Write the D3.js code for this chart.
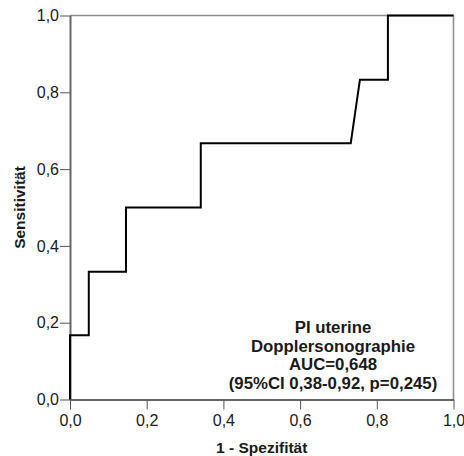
<!DOCTYPE html>
<html>
<head>
<meta charset="utf-8">
<script src="https://cdn.jsdelivr.net/npm/d3@7"></script>
<style>
  html, body { margin: 0; padding: 0; background: #fff; }
  svg { display: block; font-family: "Liberation Sans", Arial, sans-serif; }
</style>
</head>
<body>
<svg id="chart" width="464" height="456"></svg>
<script>
// ROC curve: 1 - specificity (x) against sensitivity (y)
const fpr = [0, 0, 0.049, 0.049, 0.146, 0.146, 0.341, 0.341, 0.732, 0.756, 0.829, 0.829, 1];
const tpr = [0, 0.167, 0.167, 0.333, 0.333, 0.5, 0.5, 0.667, 0.667, 0.833, 0.833, 1, 1];
const xTicks = [0, 0.2, 0.4, 0.6, 0.8, 1.0];
const yTicks = [0, 0.2, 0.4, 0.6, 0.8, 1.0];
const xTitle = "1 - Spezifität";
const yTitle = "Sensitivität";
const noteLines = ["PI uterine", "Dopplersonographie", "AUC=0,648", "(95%CI 0,38-0,92, p=0,245)"];

const svg = d3.select("#chart");
const m = { left: 70, top: 15.5, right: 453.5, bottom: 399.5 };
const x = d3.scaleLinear().domain([0, 1]).range([m.left, m.right]);
const y = d3.scaleLinear().domain([0, 1]).range([m.bottom, m.top]);
const fmt = d => d3.format(".1f")(d).replace(".", ",");
const font = "'Liberation Sans', Arial, sans-serif";

// frame (top and right sides)
svg.append("path")
  .attr("d", `M${m.left},${m.top}H${m.right}V${m.bottom}`)
  .attr("fill", "none").attr("stroke", "#8c8c8c").attr("stroke-width", 1.5);

// x axis
const gx = svg.append("g").attr("transform", `translate(0,${m.bottom})`)
  .call(d3.axisBottom(x).tickValues(xTicks).tickFormat(fmt).tickSizeInner(10).tickSizeOuter(0).tickPadding(5));
// y axis
const gy = svg.append("g").attr("transform", `translate(${m.left},0)`)
  .call(d3.axisLeft(y).tickValues(yTicks).tickFormat(fmt).tickSizeInner(10).tickSizeOuter(0).tickPadding(1));

[gx, gy].forEach(g => {
  g.select(".domain").attr("stroke", "#666").attr("stroke-width", 2);
  g.selectAll(".tick line").attr("stroke", "#555").attr("stroke-width", 1);
  g.selectAll(".tick text").attr("fill", "#1a1a1a").style("font-size", "16px")
    .style("font-family", font);
});

// ROC line
const pts = fpr.map((f, i) => [f, tpr[i]]);
svg.append("path")
  .datum(pts)
  .attr("d", d3.line().x(d => x(d[0])).y(d => y(d[1])))
  .attr("fill", "none").attr("stroke", "#000").attr("stroke-width", 2)
  .attr("stroke-linejoin", "miter");

// axis titles
svg.append("text")
  .attr("x", (m.left + m.right) / 2).attr("y", 453)
  .attr("text-anchor", "middle").attr("font-weight", "bold").attr("font-size", 15.5)
  .attr("fill", "#1a1a1a").text(xTitle);
svg.append("text")
  .attr("transform", `translate(25,${(m.top + m.bottom) / 2}) rotate(-90)`)
  .attr("text-anchor", "middle").attr("font-weight", "bold").attr("font-size", 15.5)
  .attr("fill", "#1a1a1a").text(yTitle);

// annotation block, lower right of the plot
const noteSize = 16.8, noteLead = 18.8;
svg.append("g").selectAll("text").data(noteLines).join("text")
  .attr("x", 333).attr("y", (d, i) => 332.8 + i * noteLead)
  .attr("text-anchor", "middle").attr("font-weight", "bold").attr("font-size", noteSize)
  .attr("fill", "#1a1a1a").text(d => d);
</script>
</body>
</html>
